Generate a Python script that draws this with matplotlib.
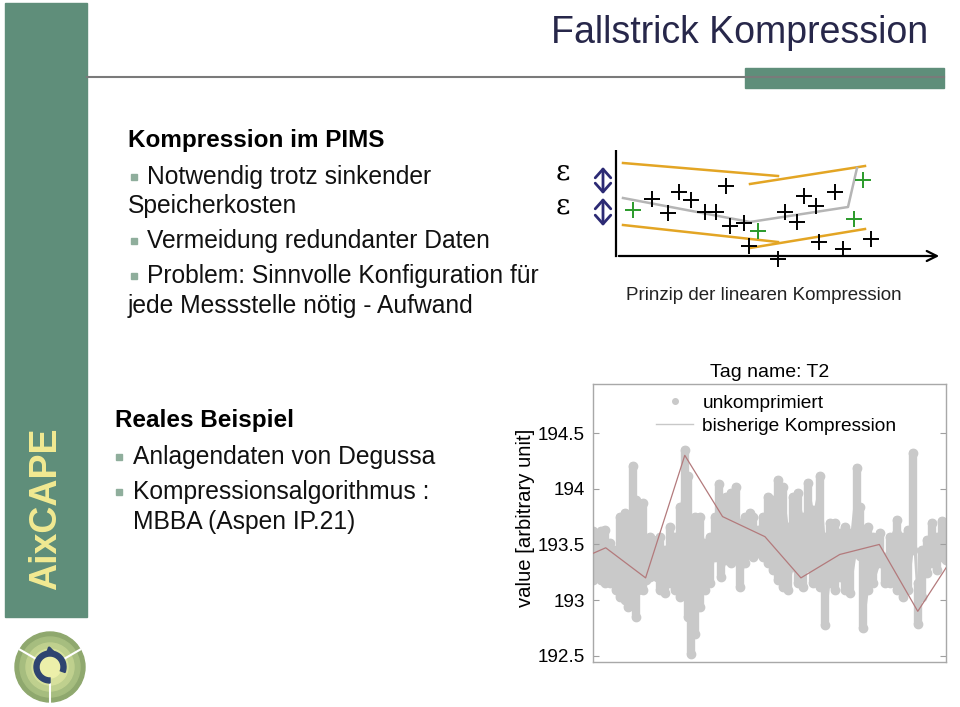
import math
import matplotlib
matplotlib.use("Agg")
import matplotlib.pyplot as plt
from matplotlib.patches import Rectangle, Circle, Wedge, FancyArrowPatch
from matplotlib.lines import Line2D

plt.rcParams['font.family'] = ['Liberation Sans', 'DejaVu Sans']

# --- Tag T2: gray raw data, read as envelope (time, upper, lower) ---
t_raw = [0, 2.4, 3.3, 4.7, 6.6, 7.6, 9.0, 9.9, 11.2, 12.3, 12.8, 14.2, 15.1, 16.1,
         18.0, 18.9, 20.3, 21.7, 23.2, 24.6, 26.0, 26.9, 27.9, 28.8, 30.2, 31.7,
         33.1, 34.5, 35.6, 36.4, 37.8, 39.2, 40.5, 41.6, 43.0, 44.4, 45.4, 46.8,
         48.2, 49.6, 51.0, 52.5, 53.9, 55.3, 56.7, 58.1, 59.5, 61.0, 62.4, 64.3,
         65.7, 67.1, 68.5, 69.9, 71.4, 72.8, 74.7, 75.6, 76.6, 78.0, 79.4, 81.3,
         82.7, 84.1, 86.0, 87.9, 89.3, 90.7, 92.0, 93.1, 94.5, 96.0, 97.4, 98.8, 100]
raw_hi = [193.62, 193.62, 193.63, 193.51, 193.45, 193.75, 193.78, 193.60, 194.20, 193.90,
          193.69, 193.87, 193.45, 193.57, 193.54, 193.57, 193.45, 193.66, 193.57, 193.84,
          194.35, 194.11, 193.60, 193.75, 193.75, 193.51, 193.57, 193.75, 194.04, 193.75,
          193.93, 193.96, 194.02, 193.69, 193.75, 193.78, 193.75, 193.63, 193.75, 193.93,
          193.90, 194.08, 194.02, 193.66, 193.93, 193.96, 193.75, 194.05, 193.81, 194.11,
          193.57, 193.69, 193.69, 193.60, 193.66, 193.60, 194.19, 193.84, 193.45, 193.66,
          193.57, 193.60, 193.39, 193.57, 193.72, 193.57, 193.63, 194.32, 193.15, 193.45,
          193.54, 193.69, 193.57, 193.71, 193.57]
raw_lo = [193.18, 193.18, 193.15, 193.15, 193.09, 193.03, 193.00, 192.94, 193.15, 192.85,
          193.09, 193.09, 193.18, 193.21, 193.21, 193.09, 193.06, 193.15, 193.09, 193.03,
          193.15, 192.85, 192.52, 192.70, 192.94, 193.09, 193.15, 193.39, 193.39, 193.21,
          193.36, 193.33, 193.39, 193.12, 193.33, 193.45, 193.39, 193.42, 193.39, 193.33,
          193.27, 193.18, 193.12, 193.09, 193.30, 193.15, 193.12, 193.30, 193.15, 193.12,
          192.78, 193.15, 193.09, 193.21, 193.09, 193.06, 193.45, 193.40, 192.75, 193.09,
          193.15, 193.33, 193.15, 193.15, 193.09, 193.03, 193.09, 193.45, 192.79, 193.03,
          193.24, 193.33, 193.27, 193.39, 193.36]

# --- bisherige Kompression (stored points) ---
t_comp = [0, 3.6, 14.9, 26.0, 36.7, 48.7, 58.9, 69.9, 81.1, 92.0, 100]
v_comp = [193.42, 193.47, 193.20, 194.30, 193.75, 193.57, 193.20, 193.41, 193.50, 192.90, 193.29]

y_ticks = [192.5, 193, 193.5, 194, 194.5]
y_tick_labels = ['192.5', '193', '193.5', '194', '194.5']

# --- schematic "Prinzip der linearen Kompression" ---
plus_black_t = [3.57, 5.17, 6.33, 7.5, 8.9, 10.0, 10.97, 11.4, 12.83, 13.33, 16.17,
                16.9, 18.07, 18.83, 20.0, 20.33, 21.9, 22.73, 25.5]
plus_black_v = [5.7, 4.33, 6.37, 5.6, 4.43, 4.43, 7.0, 3.0, 3.33, 1.03, -0.27,
                4.43, 3.37, 6.0, 5.0, 1.37, 6.37, 0.7, 1.7]
plus_green_t = [1.67, 14.17, 23.83, 24.67]
plus_green_v = [4.6, 2.47, 3.7, 7.6]
band_segments = [((0.7, 16.2), (9.3, 8.0)), ((13.4, 24.9), (7.2, 9.0)),
                 ((0.7, 16.2), (3.1, 1.4)), ((13.4, 24.9), (0.8, 2.7))]
gray_t = [0.7, 13.4, 23.2, 24.1]
gray_v = [5.8, 3.4, 4.9, 8.8]
eps_arrows = [(6.2, 8.9), (3.0, 5.8)]

GREEN = '#5f8e7a'
GRAY_DOT = '#c9c9c9'
ROSE = '#b37a7c'
NAVY = '#2c2a74'
BULLET = '#8fae9c'

fig = plt.figure(figsize=(9.6, 7.07), dpi=100)

# slide background layer in pixel coordinates
bg = fig.add_axes([0, 0, 1, 1])
bg.set_xlim(0, 960)
bg.set_ylim(707, 0)
bg.axis('off')

bg.add_patch(Rectangle((5, 3), 82, 614, color=GREEN, zorder=1))
bg.text(46, 509, 'AixCAPE', rotation=90, ha='center', va='center',
        fontsize=27, fontweight='bold', color='#f2ea92', zorder=2)
bg.plot([87, 944], [77, 77], color='#7a7a7a', lw=1.5, zorder=2)
bg.add_patch(Rectangle((745, 68), 199, 20, color=GREEN, zorder=1))
bg.text(740, 33, 'Fallstrick Kompression', ha='center', va='center',
        fontsize=27, color='#27274a')

# logo
for r, c in [(35, '#8fa86e'), (30, '#a6bd7f'), (24, '#bfd08e'), (18, '#d6e09c'), (11, '#ecefaa')]:
    bg.add_patch(Circle((50, 667), r, color=c, zorder=2))
for ang in [150, 30, 270]:
    a = math.radians(ang)
    bg.plot([50 + 17 * math.cos(a), 50 + 35 * math.cos(a)],
            [667 - 17 * math.sin(a), 667 - 35 * math.sin(a)], color='white', lw=1.5, zorder=3)
bg.add_patch(Wedge((50, 667), 16, 90, 20, width=5, color='#2e4470', zorder=4))
bg.add_patch(FancyArrowPatch((48, 651), (60, 655), arrowstyle='-|>', mutation_scale=12,
                             color='#2e4470', lw=2, zorder=4))

# text blocks
def bullet(x, y):
    bg.plot([x], [y], marker='s', ms=5, color=BULLET, zorder=3)

body = dict(fontsize=17.7, va='center', color='#111111')
bg.text(128, 140, 'Kompression im PIMS', fontsize=17.5, fontweight='bold', va='center')
bullet(134, 177)
bg.text(147, 177, 'Notwendig trotz sinkender', **body)
bg.text(128, 206, 'Speicherkosten', **body)
bullet(134, 241)
bg.text(147, 241, 'Vermeidung redundanter Daten', **body)
bullet(134, 276)
bg.text(147, 276, 'Problem: Sinnvolle Konfiguration für', **body)
bg.text(128, 306, 'jede Messstelle nötig - Aufwand', **body)

bg.text(115, 420, 'Reales Beispiel', fontsize=17.5, fontweight='bold', va='center')
bullet(119, 457)
bg.text(133, 457, 'Anlagendaten von Degussa', **body)
bullet(119, 492)
bg.text(133, 492, 'Kompressionsalgorithmus :', **body)
bg.text(133, 522, 'MBBA (Aspen IP.21)', **body)

bg.text(563, 172, 'ε', fontsize=20, ha='center', va='center', family='DejaVu Serif')
bg.text(563, 206, 'ε', fontsize=20, ha='center', va='center', family='DejaVu Serif')
bg.text(764, 295, 'Prinzip der linearen Kompression', fontsize=13.5, ha='center',
        va='center', color='#222222')

# schematic axes
sx = fig.add_axes([596 / 960, 1 - 270 / 707, 354 / 960, 120 / 707])
sx.set_xlim(-2.0, 33.4)
sx.set_ylim(-1.4, 10.6)
sx.axis('off')
sx.annotate('', xy=(32.6, 0), xytext=(0, 0),
            arrowprops=dict(arrowstyle='->', lw=1.6, color='black', mutation_scale=18))
sx.plot([0, 0], [0, 10.6], color='black', lw=1.6)
for (ts, vs) in band_segments:
    sx.plot(ts, vs, color='#e3a524', lw=1.8)
sx.plot(gray_t, gray_v, color='#b5b5b5', lw=1.8)
sx.plot(plus_black_t, plus_black_v, 'k+', ms=11, mew=1.4, linestyle='none')
sx.plot(plus_green_t, plus_green_v, '+', color='#2a9a2a', ms=11, mew=1.4, linestyle='none')
for v0, v1 in eps_arrows:
    sx.add_patch(FancyArrowPatch((-1.3, v0), (-1.3, v1),
                                 arrowstyle='<->,head_length=0.45,head_width=0.4',
                                 mutation_scale=14, lw=2, color=NAVY,
                                 shrinkA=0, shrinkB=0, clip_on=False))

# main chart
ax = fig.add_axes([593 / 960, 1 - 662 / 707, 353 / 960, 278 / 707])
ax.fill_between(t_raw, raw_lo, raw_hi, color=GRAY_DOT, lw=0, zorder=1)
ax.vlines(t_raw, raw_lo, raw_hi, color=GRAY_DOT, lw=6, capstyle='round', zorder=1)
ax.plot(t_raw, raw_hi, 'o', color=GRAY_DOT, ms=6, zorder=1)
ax.plot(t_raw, raw_lo, 'o', color=GRAY_DOT, ms=6, zorder=1)
ax.plot(t_comp, v_comp, color=ROSE, lw=0.9, zorder=3)
ax.set_xlim(0, 100)
ax.set_ylim(192.445, 194.94)
ax.set_xticks([])
ax.set_yticks(y_ticks)
ax.set_yticklabels(y_tick_labels)
ax.tick_params(axis='y', direction='in', left=True, right=True, length=4,
               color='#a0a0a0', labelsize=13.6, pad=6)
for s in ax.spines.values():
    s.set_color('#a8a8a8')
    s.set_linewidth(1)
ax.set_ylabel('value [arbitrary unit]', fontsize=14.6)
ax.yaxis.set_label_coords(-0.163, 0.52)
ax.set_title('Tag name: T2', fontsize=14, pad=5)

handles = [Line2D([], [], marker='o', ms=4, color=GRAY_DOT, linestyle='none'),
           Line2D([], [], color='#c8c8c8', lw=1)]
leg = ax.legend(handles, ['unkomprimiert', 'bisherige Kompression'], loc='upper left',
                bbox_to_anchor=(0.15, 1.0), frameon=False, fontsize=13.8,
                handlelength=1.9, handletextpad=0.5, labelspacing=0.3, borderaxespad=0.15)

fig.savefig('out.png', dpi=100)
